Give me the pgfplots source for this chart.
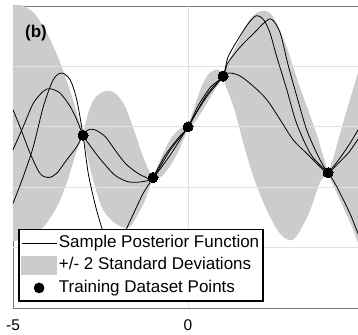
\documentclass[border=0pt]{standalone}
\usepackage{fontspec}
\setmainfont{Liberation Sans}
\usepackage{pgfplots}
\pgfplotsset{compat=1.18}
\usepgfplotslibrary{fillbetween}

\definecolor{bandgray}{RGB}{204,204,204}
\definecolor{gridgray}{RGB}{226,226,226}
\definecolor{axisgray}{RGB}{120,120,120}

\begin{document}
\begin{tikzpicture}
\begin{axis}[
  at={(0pt,0pt)}, anchor=south west,
  scale only axis, width=350pt, height=302pt,
  xmin=-5, xmax=5, ymin=-3, ymax=2,
  xtick={-5,0,5}, xticklabels={-5,0,{}},
  ytick={-2,-1,0,1}, yticklabels={},
  grid=major,
  major grid style={gridgray, line width=0.7pt},
  axis line style={axisgray, line width=0.8pt},
  tick style={axisgray, line width=0.6pt},
  tick align=inside, major tick length=3pt,
  ticklabel style={font=\fontsize{15.5}{18}\selectfont},
  xticklabel style={yshift=-8.5pt},
  legend cell align=left,
  legend style={at={(0.0143,0.0199)}, anchor=south west,
    draw=black, line width=1.6pt, fill=white,
    inner xsep=2pt, inner ysep=2pt,
    font=\fontsize{17}{20}\selectfont,
    nodes={inner xsep=1.5pt, inner ysep=3.5pt, text height=12pt, text depth=3.5pt}},
]

% +/- 2 standard deviation band, one piece between each pair of training points
\addplot[name path=u1, draw=none, smooth, forget plot] coordinates {(-5.0,2.05) (-4.7,2.0) (-4.43,1.9) (-4.2,1.72) (-3.94,1.45) (-3.61,1.0) (-3.3,0.47) (-3.15,0.18) (-3.0,-0.12)};
\addplot[name path=l1, draw=none, smooth, forget plot] coordinates {(-5.0,-1.9) (-4.5,-1.8) (-4.13,-1.66) (-3.75,-1.33) (-3.47,-0.94) (-3.18,-0.4) (-3.0,-0.16)};
\addplot[bandgray, forget plot] fill between[of=u1 and l1];

\addplot[name path=u2, draw=none, smooth, forget plot] coordinates {(-3.0,-0.12) (-2.85,0.23) (-2.66,0.48) (-2.37,0.59) (-2.09,0.56) (-1.8,0.34) (-1.51,-0.11) (-1.32,-0.44) (-1.12,-0.72) (-1.0,-0.82)};
\addplot[name path=l2, draw=none, smooth, forget plot] coordinates {(-3.0,-0.16) (-2.94,-0.33) (-2.71,-0.88) (-2.47,-1.33) (-2.18,-1.55) (-1.89,-1.66) (-1.66,-1.66) (-1.42,-1.44) (-1.23,-1.22) (-1.09,-0.99) (-1.0,-0.86)};
\addplot[bandgray, forget plot] fill between[of=u2 and l2];

\addplot[name path=u3, draw=none, smooth, forget plot] coordinates {(-1.0,-0.82) (-0.75,-0.49) (-0.5,-0.2) (-0.25,-0.04) (0,0.02)};
\addplot[name path=l3, draw=none, smooth, forget plot] coordinates {(-1.0,-0.86) (-0.75,-0.82) (-0.5,-0.64) (-0.25,-0.38) (0,-0.02)};
\addplot[bandgray, forget plot] fill between[of=u3 and l3];

\addplot[name path=u4, draw=none, smooth, forget plot] coordinates {(0,0.02) (0.2,0.36) (0.39,0.67) (0.58,0.87) (0.8,0.95) (0.92,0.93) (1.0,0.86)};
\addplot[name path=l4, draw=none, smooth, forget plot] coordinates {(0,-0.02) (0.2,0.08) (0.49,0.34) (0.77,0.62) (1.0,0.82)};
\addplot[bandgray, forget plot] fill between[of=u4 and l4];

\addplot[name path=u5, draw=none, smooth, forget plot] coordinates {(1.0,0.86) (1.14,1.05) (1.43,1.4) (1.71,1.73) (1.9,1.86) (2.1,1.92) (2.3,1.9) (2.45,1.8) (2.63,1.6) (2.82,1.32) (3.0,1.0) (3.2,0.65) (3.4,0.33) (3.69,-0.15) (3.87,-0.5) (4.0,-0.74)};
\addplot[name path=l5, draw=none, smooth, forget plot] coordinates {(1.0,0.82) (1.05,0.72) (1.33,0.28) (1.58,-0.27) (1.87,-0.83) (2.25,-1.38) (2.63,-1.77) (2.96,-1.88) (3.2,-1.72) (3.49,-1.38) (3.77,-0.92) (4.0,-0.78)};
\addplot[bandgray, forget plot] fill between[of=u5 and l5];

\addplot[name path=u6, draw=none, smooth, forget plot] coordinates {(4.0,-0.74) (4.15,-0.52) (4.34,-0.12) (4.6,0.4) (4.86,0.9) (5.0,1.15)};
\addplot[name path=l6, draw=none, smooth, forget plot] coordinates {(4.0,-0.78) (4.25,-1.1) (4.63,-1.58) (4.86,-1.93) (5.0,-2.1)};
\addplot[bandgray, forget plot] fill between[of=u6 and l6];

% grid lines repeated above the band
\draw[gridgray, line width=0.7pt] (axis cs:-5,-2) -- (axis cs:5,-2);
\draw[gridgray, line width=0.7pt] (axis cs:-5,-1) -- (axis cs:5,-1);
\draw[gridgray, line width=0.7pt] (axis cs:-5,0) -- (axis cs:5,0);
\draw[gridgray, line width=0.7pt] (axis cs:-5,1) -- (axis cs:5,1);
\draw[gridgray, line width=0.7pt] (axis cs:0,-3) -- (axis cs:0,2);

% sample functions drawn from the posterior
\addplot[black, line width=0.8pt, smooth, forget plot] coordinates {(-5.0,-1.27) (-4.71,-0.83) (-4.42,-0.33) (-4.13,0.34) (-3.85,0.78) (-3.61,0.89) (-3.37,0.78) (-3.18,0.45) (-3.0,-0.14) (-2.85,-0.77) (-2.66,-1.27) (-2.47,-1.66) (-2.3,-1.92) (-2.1,-2.03) (-1.92,-1.92) (-1.75,-1.68) (-1.51,-1.38) (-1.28,-1.1) (-1.0,-0.84) (-0.66,-0.48) (-0.3,-0.2) (0,0) (0.3,0.36) (0.65,0.66) (1.0,0.84) (1.14,1.15) (1.43,1.45) (1.71,1.7) (1.95,1.84) (2.15,1.78) (2.34,1.56) (2.53,1.17) (2.82,0.62) (3.1,0.06) (3.49,-0.44) (3.82,-0.66) (4.0,-0.76) (4.25,-0.99) (4.63,-1.44) (4.86,-1.77) (5.0,-1.95)};
\addplot[black, line width=0.8pt, smooth, forget plot] coordinates {(-5.0,-0.38) (-4.71,0.0) (-4.42,0.39) (-4.13,0.59) (-3.94,0.63) (-3.66,0.56) (-3.37,0.34) (-3.18,0.12) (-3.0,-0.14) (-2.85,-0.27) (-2.66,-0.42) (-2.47,-0.56) (-2.09,-0.8) (-1.71,-0.91) (-1.32,-0.91) (-1.0,-0.84) (-0.5,-0.46) (0,0) (0.5,0.47) (1.0,0.84) (1.14,1.06) (1.52,1.34) (1.9,1.56) (2.19,1.73) (2.39,1.78) (2.63,1.56) (2.87,1.0) (3.15,0.42) (3.39,-0.05) (3.68,-0.44) (3.91,-0.69) (4.0,-0.76) (4.3,-0.55) (4.6,-0.3) (4.86,-0.05) (5.0,0.1)};
\addplot[black, line width=0.8pt, smooth, forget plot] coordinates {(-5.0,0.28) (-4.8,0.0) (-4.51,-0.44) (-4.23,-0.77) (-3.99,-0.84) (-3.75,-0.77) (-3.47,-0.55) (-3.18,-0.33) (-3.0,-0.14) (-2.85,-0.05) (-2.66,-0.05) (-2.37,-0.16) (-2.09,-0.38) (-1.8,-0.6) (-1.51,-0.74) (-1.23,-0.83) (-1.0,-0.84) (-0.5,-0.38) (0,0) (0.5,0.5) (1.0,0.84) (1.2,0.89) (1.49,0.84) (1.87,0.67) (2.25,0.45) (2.63,0.12) (3.01,-0.22) (3.39,-0.44) (3.77,-0.66) (4.0,-0.76) (4.3,-0.6) (4.6,-0.42) (4.86,-0.2) (5.0,-0.08)};

% training data
\addplot[only marks, mark=*, mark size=5pt, mark options={black, fill=black, line width=0pt}, forget plot] coordinates {(-3,-0.14) (-1,-0.84) (0,0) (1,0.84) (4,-0.76)};

\addlegendimage{legend image code/.code={\draw[black, line width=0.8pt] (0pt,0pt) -- (35pt,0pt);}}
\addlegendentry{Sample Posterior Function}
\addlegendimage{legend image code/.code={\fill[bandgray] (0pt,-9pt) rectangle (35pt,9pt);}}
\addlegendentry{+/- 2 Standard Deviations}
\addlegendimage{legend image code/.code={\fill[black] (17.5pt,0pt) circle (4.5pt);}}
\addlegendentry{Training Dataset Points}

\node[font=\fontsize{17}{20}\selectfont\bfseries] at (rel axis cs:0.0657,0.9106) {(b)};
\end{axis}
\pgfresetboundingbox
\useasboundingbox (-13pt,-26pt) rectangle (345pt,308pt);
\end{tikzpicture}
\end{document}
